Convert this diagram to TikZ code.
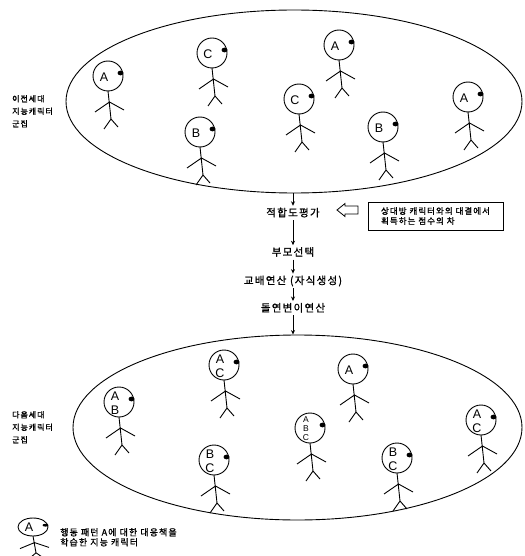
\documentclass[tikz,border=0pt]{standalone}
\usepackage{fontspec}
\setmainfont{Liberation Sans}
\newfontfamily\kr[LetterSpace=12, FakeBold=1.2]{Noto Sans CJK KR}
\usetikzlibrary{arrows.meta, positioning, shapes.geometric}
\tikzset{
  pool/.style={ellipse, draw, line width=0.9pt, inner sep=0pt},
  stage/.style={font=\kr\fontsize{10.5}{12}\selectfont, text height=8.5pt,
    text depth=1.5pt, inner sep=2pt},
  grouplabel/.style={font=\kr\fontsize{8}{12.5}\selectfont, align=left,
    anchor=north west, inner sep=0pt},
  note/.style={draw, line width=0.8pt, align=left, minimum width=135pt,
    minimum height=28pt, inner xsep=5pt, font=\kr\fontsize{8.5}{10}\selectfont},
  arrow/.style={-{Stealth[length=4.5pt, width=4pt]}, line width=0.8pt},
  hollow/.style={draw, line width=0.8pt, fill=white, line join=miter},
  tag/.style={font=\fontsize{12.5}{14}\selectfont, align=center, inner sep=0pt},
  smalltag/.style={tag/.append style={font=\fontsize{8.5}{9}\selectfont}},
  pics/agent/.style={code={
    \draw[line width=0.9pt] (0,0) circle[radius=15pt];
    \fill (12.5,-3) ellipse[x radius=3pt, y radius=2.4pt];
    \draw[line width=0.9pt] (0,15) -- (3,43)
      (-13,36) -- (1.5,26) -- (16,34)
      (-4,53) -- (3,43) -- (10,51);
    \node[tag] (-id) at (-4,1) {#1};
  }}
}

\begin{document}
\begin{tikzpicture}[x=1pt, y=-1pt]
  \useasboundingbox (0,0) rectangle (524,556);
  \clip (0,0) rectangle (524,556);

  % previous generation
  \node[pool, minimum width=456pt, minimum height=183pt] (prev) at (294,101.5) {};
  \node[grouplabel] (prevlbl) at (12,95) {이전세대\\지능캐릭터\\군집};
  \pic (p1) at (108,76) {agent=A};
  \pic (p2) at (212,53) {agent=C};
  \pic (p3) at (200,132) {agent=B};
  \pic (p4) at (339,45) {agent=A};
  \pic (p5) at (299,99) {agent=C};
  \pic (p6) at (383,127) {agent=B};
  \pic (p7) at (468,97) {agent=A};

  % GA steps
  \node[stage] (fit) at (293,213) {적합도평가};
  \node[stage, below=25pt of fit] (sel) {부모선택};
  \node[stage, below=14pt of sel] (cross) {교배연산 (자식생성)};
  \node[stage, below=13pt of cross] (mut) {돌연변이연산};

  \node[note] (score) at (435.5,216) {상대방 캐릭터와의 대결에서\\획득하는 점수의 차};
  \coordinate (hint) at (337,210);
  \draw[hollow] (hint) -- ++(8,-6.5) -- ++(0,2.5) -- ++(13,0) -- ++(0,8)
    -- ++(-13,0) -- ++(0,2.5) -- cycle;

  % next generation
  \node[pool, minimum width=449pt, minimum height=185pt] (next) at (297.5,427.5) {};
  \node[grouplabel] (nextlbl) at (12,411) {다음세대\\지능캐릭터\\군집};
  \pic (n1) at (119,402) {agent={A\\B}};
  \pic (n2) at (224,365) {agent={A\\C}};
  \pic (n3) at (353,369) {agent=A};
  \pic[smalltag] (n4) at (310,428) {agent={A\\B\\C}};
  \pic (n5) at (214,460) {agent={B\\C}};
  \pic (n6) at (397,458) {agent={B\\C}};
  \pic (n7) at (481,420) {agent={A\\C}};

  \draw[arrow] (prev.south -| fit) -- (fit);
  \draw[arrow] (fit) -- (sel);
  \draw[arrow] (sel) -- (cross);
  \draw[arrow] (cross) -- (mut);
  \draw[arrow] (mut) -- (mut |- next.north);

  % legend
  \pic[yscale=0.6] (key) at (33,527) {agent=A};
  \node[grouplabel, font=\kr\fontsize{9}{10}\selectfont] (keytext) at (60,528)
    {행동 패턴 A에 대한 대응책을\\학습한 지능 캐릭터};
\end{tikzpicture}
\end{document}
